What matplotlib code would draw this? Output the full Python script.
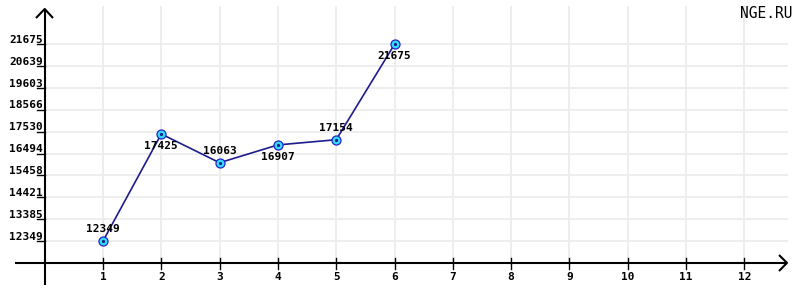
import numpy as np
import matplotlib.pyplot as plt
from matplotlib.transforms import offset_copy

# data
months = [1, 2, 3, 4, 5, 6]
values = [12349, 17425, 16063, 16907, 17154, 21675]
x_ticks = [1, 2, 3, 4, 5, 6, 7, 8, 9, 10, 11, 12]
y_ticks = [12349, 13385, 14421, 15458, 16494, 17530, 18566, 19603, 20639, 21675]
y_base = 11313
watermark = "NGE.RU"

W, H, DPI = 800, 291, 100
PX_X = 58.3           # pixels per x unit
PX_Y = 21.85 / 1036   # pixels per y unit
X0_PX, Y0_PX = 44.7, 262.9  # origin position in pixels (from top-left)

FONT = "DejaVu Sans Mono"


def main():
    fig = plt.figure(figsize=(W / DPI, H / DPI), dpi=DPI)
    ax = fig.add_axes([0, 0, 1, 1])
    ax.set_xlim(-X0_PX / PX_X, (W - X0_PX) / PX_X)
    ax.set_ylim(y_base - (H - Y0_PX) / PX_Y, y_base + Y0_PX / PX_Y)
    ax.axis("off")

    def px2x(p):
        return (p - X0_PX) / PX_X

    def py2y(p):
        return y_base + (Y0_PX - p) / PX_Y

    grid_kw = dict(color="#eeeeee", lw=1.4, zorder=1)
    # horizontal grid
    for v in y_ticks:
        ax.plot([0, px2x(787)], [v, v], **grid_kw)
    # vertical grid
    for xv in x_ticks:
        ax.plot([xv, xv], [y_base, py2y(7)], **grid_kw)

    # axes
    axis_kw = dict(color="black", lw=1.5, zorder=3, solid_capstyle="butt")
    ax.plot([0, 0], [py2y(285), py2y(10)], **axis_kw)
    ax.plot([px2x(15), px2x(786)], [y_base, y_base], **axis_kw)
    # arrow heads (open chevrons)
    ax.plot([px2x(36), 0, px2x(53)], [py2y(18), py2y(9), py2y(18)], **axis_kw)
    ax.plot([px2x(779), px2x(787), px2x(779)], [py2y(255), y_base, py2y(271)], **axis_kw)

    txt_kw = dict(fontsize=8, family=FONT, color="black", weight="bold")

    # ticks
    for v in y_ticks:
        ax.plot([px2x(37), 0], [v, v], color="black", lw=1.0, zorder=3)
        t = offset_copy(ax.transData, fig=fig, x=-1.5, y=1.5, units="dots")
        ax.text(0, v, str(v), transform=t, ha="right", va="baseline", **txt_kw)
    for xv in x_ticks:
        ax.plot([xv, xv], [py2y(258), py2y(269)], color="black", lw=1.0, zorder=3)
        ax.text(xv, py2y(277), str(xv), ha="center", va="center", **txt_kw)

    # series
    ax.plot(months, values, color="#1c1c8c", lw=1.2, zorder=4)
    ax.plot(months, values, "o", ms=6.5, mfc="#33ddff", mec="#2424c8", mew=0.9, zorder=5)
    ax.plot(months, values, "o", ms=1.3, color="#1c1c8c", zorder=6)

    for i, (xv, v) in enumerate(zip(months, values)):
        dy = 12 if i % 2 == 0 else -12
        t = offset_copy(ax.transData, fig=fig, x=0, y=dy, units="dots")
        ax.text(xv, v, str(v), transform=t, ha="center", va="center", zorder=7, **txt_kw)

    ax.text(px2x(792), py2y(13), watermark, ha="right", va="center",
            fontsize=10.5, family=FONT, color="black")

    fig.savefig("out.png", dpi=DPI)


if __name__ == "__main__":
    main()
